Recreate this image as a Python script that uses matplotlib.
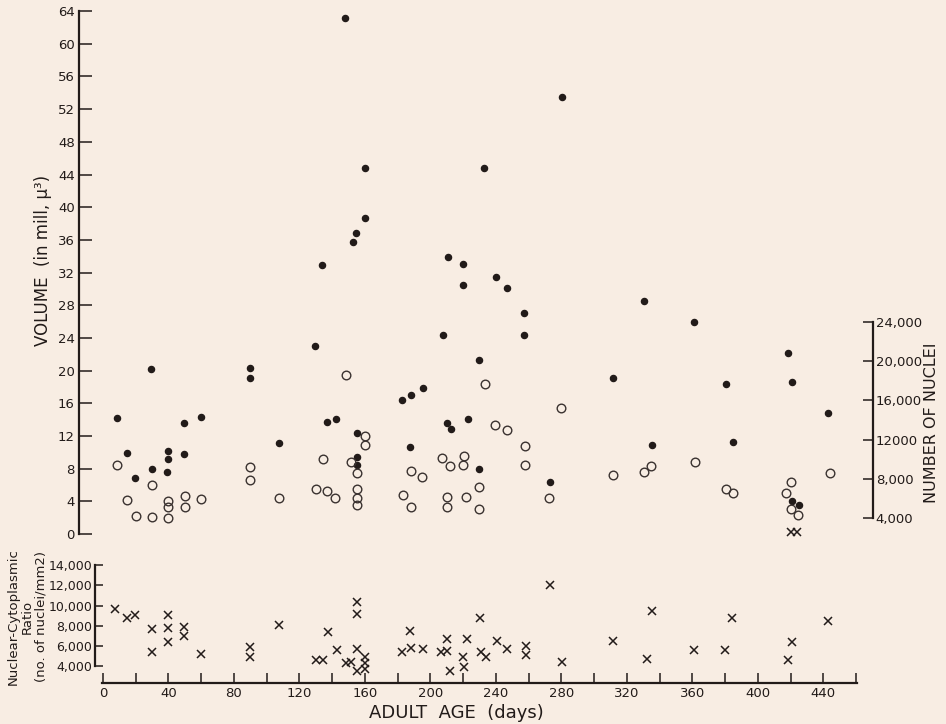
import matplotlib
matplotlib.use("Agg")
import matplotlib.pyplot as plt
from matplotlib.ticker import FixedLocator, FuncFormatter

# volume of the organ (filled dots), in mill. cubic micra
vol_day = [8.7, 14.7, 19.5, 29.5, 29.9, 39.5, 39.5, 39.3, 49.7, 49.7, 59.7,
           89.6, 89.6, 107.5, 129.5, 133.9, 137.0, 142.3, 147.8, 152.5, 154.5,
           154.9, 154.9, 154.9, 160.0, 160.0, 182.8, 187.9, 195.2, 187.7,
           207.4, 210.5, 209.9, 212.3, 220.0, 220.0, 222.7, 229.4, 229.8,
           232.9, 240.0, 246.5, 257.3, 257.3, 272.9, 280.5, 311.3, 330.4,
           335.0, 361.0, 380.6, 384.7, 418.1, 420.5, 420.5, 425.0, 442.9]
vol_val = [14.2, 9.9, 6.85, 20.2, 7.96, 10.1, 9.2, 7.55, 13.6, 9.8, 14.3,
           20.3, 19.1, 11.1, 23.0, 32.9, 13.7, 14.1, 63.1, 35.7, 36.8,
           12.4, 9.4, 8.45, 44.8, 38.7, 16.4, 17.05, 17.9, 10.7,
           24.4, 33.9, 13.6, 12.85, 33.0, 30.5, 14.1, 21.3, 7.96,
           44.8, 31.4, 30.1, 27.1, 24.3, 6.4, 53.5, 19.05, 28.5,
           10.9, 26.0, 18.4, 11.3, 22.1, 18.6, 4.04, 3.6, 14.8]

# number of nuclei (open circles)
nuc_day = [8.7, 14.7, 20.0, 29.7, 29.7, 39.9, 39.9, 39.9, 49.8, 49.8, 60.0,
           89.9, 89.9, 107.7, 129.9, 134.2, 137.1, 141.9, 148.2, 151.5,
           154.9, 154.9, 154.9, 154.9, 160.0, 160.0, 183.3, 188.0, 188.3,
           194.9, 207.0, 211.7, 209.9, 209.9, 220.2, 220.0, 222.0, 229.4,
           229.4, 233.2, 239.7, 246.5, 257.5, 257.5, 272.5, 279.6, 311.4,
           330.6, 334.9, 361.5, 380.2, 384.9, 417.3, 420.2, 420.0, 424.6,
           443.8]
nuc_val = [9451, 5861, 4203, 7356, 4132, 5759, 5180, 4000, 6298, 5149, 5963,
           9187, 7926, 6064, 6980, 10080, 6807, 6080, 18543, 9720,
           8620, 6980, 6034, 5353, 12339, 11424, 6370, 5100, 8841,
           8231, 10163, 9288, 6136, 5119, 10305, 9420, 6197, 7214,
           4976, 17658, 13488, 12950, 11383, 9421, 6064, 15217, 8404,
           8739, 9349, 9756, 6949, 6543, 6560, 7722, 4930, 4300,
           8577]

# two off-scale crosses drawn at the foot of the volume scale
off_day = [420.2, 424.0]
off_val = [0.2, 0.2]

# nuclear-cytoplasmic ratio (crosses), nuclei per mm2
rat_day = [7.3, 14.7, 19.7, 29.7, 29.7, 39.9, 39.9, 39.9, 49.7, 49.7, 59.6,
           89.8, 89.8, 107.4, 130.1, 134.1, 137.4, 142.7, 148.4, 151.3,
           154.9, 154.9, 154.9, 155.3, 160.0, 160.0, 160.0, 182.9, 187.7,
           188.1, 195.2, 206.7, 210.2, 209.8, 211.9, 219.6, 220.2, 222.4,
           230.4, 230.6, 233.9, 240.6, 246.7, 258.1, 258.1, 272.8, 280.3,
           311.2, 332.1, 335.4, 361.0, 380.0, 384.3, 418.1, 420.5, 442.9]
rat_val = [9673, 8782, 9110, 7663, 5445, 9110, 7792, 6376, 7850, 7000, 5188,
           5881, 4891, 8059, 4624, 4624, 7430, 5614, 4297, 4455,
           10395, 9178, 5713, 3564, 4891, 4356, 3703, 5445, 7524,
           5782, 5713, 5386, 5515, 6703, 3564, 4950, 3960, 6673,
           8811, 5386, 4950, 6505, 5683, 6050, 5100, 12049, 4455,
           6505, 4693, 9445, 5614, 5614, 8752, 4624, 6436, 8485]

vol_ticks = list(range(0, 65, 4))
nuc_ticks = [4000, 8000, 12000, 16000, 20000, 24000]
nuc_labels = ["4,000", "8,000", "12000", "16,000", "20,000", "24,000"]
rat_ticks = [4000, 6000, 8000, 10000, 12000, 14000]
day_ticks = list(range(0, 461, 20))

bg = "#f8ede3"
ink = "#221b19"
plt.rcParams["font.family"] = ["DejaVu Sans"]
plt.rcParams["text.color"] = ink

fig = plt.figure(figsize=(9.46, 7.24), dpi=100, facecolor=bg)
W, H = 946.0, 724.0

def rect(x0, y0, x1, y1):
    return [x0 / W, 1 - y1 / H, (x1 - x0) / W, (y1 - y0) / H]

xlim = (-14.66, 460.5)

# top panel
ax = fig.add_axes(rect(79, 5, 857, 540))
ax.set_facecolor("none")
ax.set_xlim(*xlim)
ax.set_ylim(-0.734, 64.75)
ax.plot(vol_day, vol_val, "o", ms=4.4, color=ink, mec=ink, ls="none", zorder=3)
ax.plot(off_day, off_val, "x", ms=5.5, mew=1.1, color=ink, ls="none")
for s in ["top", "right", "bottom"]:
    ax.spines[s].set_visible(False)
ax.spines["left"].set_bounds(0, 64)
ax.spines["left"].set_linewidth(1.6)
ax.spines["left"].set_color(ink)
ax.set_yticks(vol_ticks)
ax.tick_params(axis="y", direction="in", length=9, width=1.1, colors=ink,
               labelsize=9.5, pad=3)
ax.set_xticks([])
fig.text(43 / W, 1 - 260 / H, "VOLUME  (in mill, μ³)", rotation=90,
         ha="center", va="center", fontsize=12, color=ink)

ax2 = ax.twinx()
ax2.set_ylim(1793, 56204)
ax2.plot(nuc_day, nuc_val, "o", ms=6.2, mfc="none", mec="#3a3230", mew=1.0,
         ls="none")
for s in ["top", "left", "bottom"]:
    ax2.spines[s].set_visible(False)
ax2.spines["right"].set_position(("axes", (873 - 79) / 778.0))
ax2.spines["right"].set_bounds(4000, 24000)
ax2.spines["right"].set_linewidth(1.6)
ax2.spines["right"].set_color(ink)
ax2.yaxis.set_major_locator(FixedLocator(nuc_ticks))
ax2.set_yticklabels(nuc_labels)
ax2.tick_params(axis="y", direction="in", length=7, width=1.1, colors=ink,
                labelsize=9.5, pad=2)
fig.text(931 / W, 1 - 423 / H, "NUMBER OF NUCLEI", rotation=90,
         ha="center", va="center", fontsize=11.5, color=ink)

# bottom panel
bx = fig.add_axes(rect(79, 555, 857, 683))
bx.set_facecolor("none")
bx.set_xlim(*xlim)
bx.set_ylim(2347, 15019)
bx.plot(rat_day, rat_val, "x", ms=5.5, mew=1.1, color=ink, ls="none")
for s in ["top", "right"]:
    bx.spines[s].set_visible(False)
bx.spines["left"].set_position(("axes", (95 - 79) / 778.0))
bx.spines["left"].set_bounds(4000, 14000)
bx.spines["bottom"].set_bounds(-0.8, 460.5)
for s in ["left", "bottom"]:
    bx.spines[s].set_linewidth(1.6)
    bx.spines[s].set_color(ink)
bx.set_yticks(rat_ticks)
bx.yaxis.set_major_formatter(FuncFormatter(lambda v, p: f"{int(v):,}"))
bx.tick_params(axis="y", direction="in", length=6, width=1.1, colors=ink,
               labelsize=9, pad=2)
bx.set_xticks(day_ticks)
bx.set_xticklabels([str(d) if d % 40 == 0 and d < 460 else "" for d in day_ticks])
bx.tick_params(axis="x", direction="in", length=7, width=1.1, colors=ink,
               labelsize=9.5, pad=3)
fig.text(456 / W, 1 - 713 / H, "ADULT  AGE  (days)", ha="center", va="center",
         fontsize=13, color=ink)
fig.text(27 / W, 1 - 617 / H, "Nuclear-Cytoplasmic\nRatio\n(no. of nuclei/mm2)",
         rotation=90, ha="center", va="center", fontsize=9.5, color=ink,
         linespacing=1.05, multialignment="center")

fig.savefig("out.png", dpi=100, facecolor=bg)
